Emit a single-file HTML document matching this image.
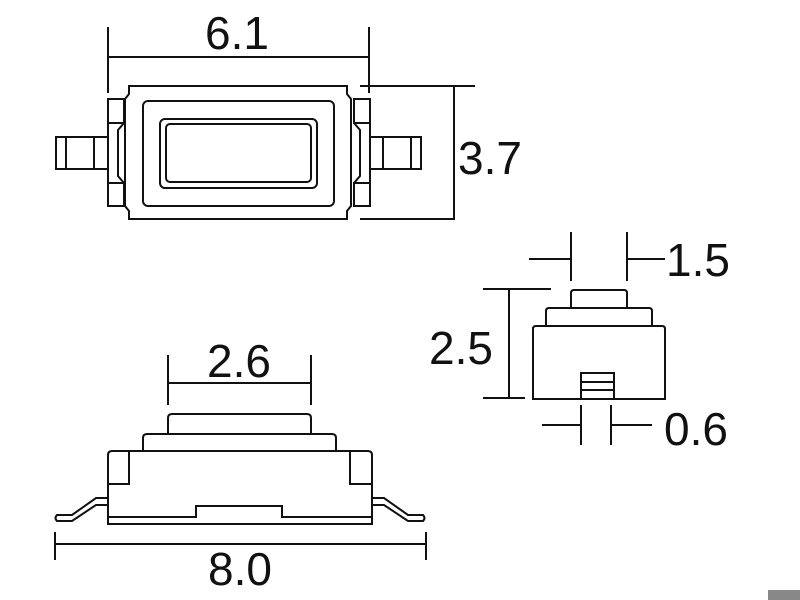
<!DOCTYPE html>
<html><head><style>html,body{margin:0;padding:0;background:#fff}svg{display:block}text{font-family:"Liberation Sans",Arial,sans-serif;font-size:46px;fill:#111}</style></head><body>
<svg width="800" height="600" viewBox="0 0 800 600" xmlns="http://www.w3.org/2000/svg">
<g fill="none" stroke="#111" stroke-width="2">
<!-- Top view -->
<path d="M108 27V93M369 27V93M108 57H369"/>
<path d="M129 86H347V94L351 99V206L347 211V219H129V211L125 206V99L129 94Z"/>
<path d="M108 99H124V123H108ZM108 183H124V206H108ZM354 99H370V123H354ZM354 183H370V206H354Z"/>
<path d="M108 123V183M124 123L118 130V176L124 183M370 123V183M354 123L360 130V176L354 183"/>
<rect x="143" y="101" width="191" height="105" rx="5"/>
<rect x="160" y="119" width="157" height="69" rx="5"/>
<rect x="166" y="124" width="145" height="58" rx="4"/>
<path d="M56 137H108V169H56ZM66 137V169M94 137V169"/>
<path d="M370 137H421V169H370ZM383 137V169M411 137V169"/>
<path d="M360 86H475M360 219H455M454 86V219"/>
<!-- Bottom side view -->
<path d="M168 434V418Q168 414 172 414H307Q311 414 311 418V434"/>
<path d="M143 451V438Q143 434 147 434H332Q336 434 336 438V451"/>
<path d="M108 524V455Q108 451 112 451H368Q372 451 372 455V524Z"/>
<path d="M108 484H129V451M372 484H350V451"/>
<path d="M108 517H196V506H282V517H372"/>
<path d="M108 498H96L72 515H57Q54 518 57 521H72L96 505H108"/>
<path d="M372 498H384L408 515H423Q426 518 423 521H408L384 505H372"/>
<path d="M168 355V405M311 355V405M168 383H311"/>
<path d="M55 532V560M426 532V560M55 544H426"/>
<!-- Right side view -->
<path d="M571 308V293Q571 290 574 290H624Q627 290 627 293V308"/>
<path d="M546 326V311Q546 308 549 308H649Q652 308 652 311V326"/>
<path d="M533 399V329Q533 326 536 326H662Q665 326 665 329V399Z"/>
<path d="M581 399V373H614V399M581 382H614M581 390H614"/>
<path d="M571 232V281M627 232V281M529 259H571M627 259H665"/>
<path d="M509 289V398M483 289H551M483 398H525"/>
<path d="M581 405V445M611 405V445M542 425H581M611 425H652"/>
</g>
<text x="237" y="49" text-anchor="middle">6.1</text>
<text x="458" y="174">3.7</text>
<text x="239" y="377" text-anchor="middle">2.6</text>
<text x="240" y="585" text-anchor="middle">8.0</text>
<text x="666" y="276">1.5</text>
<text x="429" y="364">2.5</text>
<text x="664" y="445">0.6</text>
<rect x="768" y="590" width="32" height="10" fill="#888"/>
</svg>
</body></html>
